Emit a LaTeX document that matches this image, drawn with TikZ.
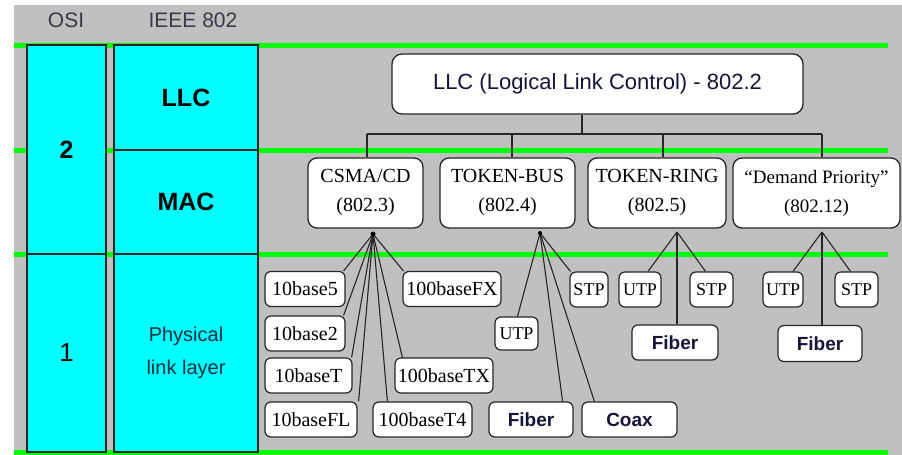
\documentclass[tikz,border=0pt]{standalone}
\usepackage{fontspec}
\setmainfont{Liberation Serif}
\setsansfont{Liberation Sans}
\definecolor{bggray}{HTML}{C0C0C0}
\definecolor{lgreen}{HTML}{00FF00}
\definecolor{lcyan}{HTML}{00FFFF}
\definecolor{navy}{HTML}{15153A}
\definecolor{hdr}{HTML}{3A3A4A}
\definecolor{phys}{HTML}{103040}
\begin{document}
\begin{tikzpicture}[x=1pt,y=-1pt,
  greenline/.style={draw=lgreen, line width=5pt},
  layerbox/.style={draw=black!85, line width=1.4pt, fill=lcyan, inner sep=0pt, text=black},
  bigbold/.style={font=\sffamily\bfseries\fontsize{25}{30}\selectfont},
  hdrtext/.style={font=\sffamily\fontsize{21}{25}\selectfont, text=hdr, inner sep=0pt},
  llcbox/.style={draw=black!85, fill=white, line width=1.3pt, rounded corners=10pt, inner sep=0pt,
     font=\sffamily\fontsize{22}{26}\selectfont, text=navy},
  protobox/.style={draw=black!85, fill=white, line width=1.3pt, rounded corners=9pt, inner sep=0pt,
     align=center, font=\fontsize{20}{29}\selectfont, minimum height=70pt},
  physbox/.style={draw=black!85, fill=white, line width=1.2pt, rounded corners=6pt, inner sep=0pt,
     font=\fontsize{20}{24}\selectfont, minimum height=35pt},
  smallbox/.style={physbox, font=\fontsize{18}{20}\selectfont},
  sansbox/.style={physbox, font=\sffamily\bfseries\fontsize{19}{23}\selectfont, text=navy},
  link/.style={draw=black!85, line width=1.1pt}
]
\useasboundingbox (0,0) rectangle (902,455);
% background
\fill[bggray] (14,5) rectangle (902,455);
% green level lines
\draw[greenline] (14,45) -- (888,45);
\draw[greenline] (14,150) -- (888,150);
\draw[greenline] (14,254) -- (888,254);
\draw[greenline] (14,452) -- (888,452);
% headers
\node[hdrtext] (hosi) at (66,20) {OSI};
\node[hdrtext] (hieee) at (193,20) {IEEE 802};
% layer columns
\node[layerbox, minimum width=79pt, minimum height=209pt, bigbold] (osi2) at (66.5,149.5) {2};
\node[layerbox, minimum width=79pt, minimum height=198pt, font=\sffamily\fontsize{26}{30}\selectfont] (osi1) at (66.5,353) {1};
\node[layerbox, minimum width=144pt, minimum height=105pt, bigbold] (ieeellc) at (186,97.5) {LLC};
\node[layerbox, minimum width=144pt, minimum height=104pt, bigbold] (ieeemac) at (186,202) {MAC};
\node[layerbox, minimum width=144pt, minimum height=198pt, align=center, text=phys,
      font=\sffamily\fontsize{20}{33}\selectfont] (ieeephy) at (186,353) {Physical\\link layer};
% LLC box
\node[llcbox, minimum width=411pt, minimum height=60pt] (llc) at (597.5,84) {LLC (Logical Link Control) - 802.2};
% MAC protocol boxes
\node[protobox, minimum width=115pt] (csma) at (365.5,193) {CSMA/CD\\(802.3)};
\node[protobox, minimum width=135pt] (tbus) at (507.5,193) {TOKEN-BUS\\(802.4)};
\node[protobox, minimum width=138pt] (tring) at (657,193) {TOKEN-RING\\(802.5)};
\node[protobox, minimum width=167pt, font=\fontsize{19}{29}\selectfont] (dprio) at (816.5,193) {“Demand Priority”\\(802.12)};
% tree from LLC
\coordinate (t0) at (582,134);
\coordinate (t1) at (367,134);
\coordinate (t2) at (512,134);
\coordinate (t3) at (663,134);
\coordinate (t4) at (822,134);
\draw[link] (t0 |- llc.south) -- (t0);
\draw[link] (t1) -- (t4);
\draw[link] (t1) -- (t1 |- csma.north);
\draw[link] (t2) -- (t2 |- tbus.north);
\draw[link] (t3) -- (t3 |- tring.north);
\draw[link] (t4) -- (t4 |- dprio.north);
% physical boxes: 802.3
\node[physbox, minimum width=80pt] (p10b5) at (305,289) {10base5};
\node[physbox, minimum width=80pt] (p10b2) at (305,333.5) {10base2};
\node[physbox, minimum width=87pt] (p10bT) at (308.5,375.5) {10baseT};
\node[physbox, minimum width=92pt] (p10bFL) at (311,419.5) {10baseFL};
\node[physbox, minimum width=99pt] (p100T4) at (422.5,419.5) {100baseT4};
\node[physbox, minimum width=98pt] (p100TX) at (444,375.5) {100baseTX};
\node[physbox, minimum width=98pt] (p100FX) at (452,289) {100baseFX};
% 802.4
\node[smallbox, minimum width=43pt, minimum height=33pt] (bUTP) at (516.5,333.5) {UTP};
\node[smallbox, minimum width=38pt] (bSTP) at (589,289.5) {STP};
\node[sansbox, minimum width=84pt] (bFiber) at (531,419.5) {Fiber};
\node[sansbox, minimum width=95pt] (bCoax) at (629.5,419.5) {Coax};
% 802.5
\node[smallbox, minimum width=42pt] (rUTP) at (640,289.5) {UTP};
\node[smallbox, minimum width=43pt] (rSTP) at (711.5,289.5) {STP};
\node[sansbox, minimum width=86pt] (rFiber) at (675,342.5) {Fiber};
% 802.12
\node[smallbox, minimum width=40pt] (dUTP) at (783,289.5) {UTP};
\node[smallbox, minimum width=43pt] (dSTP) at (856.5,289.5) {STP};
\node[sansbox, minimum width=84pt, minimum height=36pt] (dFiber) at (820,343.5) {Fiber};
% fan-out connectors
\coordinate (f1) at (373,234);
\coordinate (f2) at (540,233);
\coordinate (f3) at (677,232);
\coordinate (f4) at (822,232);
\draw[link] (f1) -- ([xshift=-2pt]p10b5.north east);
\draw[link] (f1) -- ([xshift=-2pt]p10b2.north east);
\draw[link] (f1) -- ([xshift=-1pt]p10bT.north east);
\draw[link] (f1) -- ([xshift=1pt]p10bFL.north east);
\draw[link] (f1) -- ([xshift=15pt]p100T4.north west);
\draw[link] (f1) -- ([xshift=8pt]p100TX.north west);
\draw[link] (f1) -- ([xshift=1pt]p100FX.north west);
\draw[link] (f2) -- ([xshift=1pt]bUTP.north);
\draw[link] (f2) -- ([xshift=1pt]bSTP.north west);
\draw[link] (f2) -- ([xshift=-11pt]bFiber.north east);
\draw[link] (f2) -- ([xshift=13pt]bCoax.north west);
\draw[link] (f3) -- ([xshift=8pt]rUTP.north);
\draw[link] (f3) -- ([xshift=-6pt]rSTP.north);
\draw[link] (f3) -- (f3 |- rFiber.north);
\draw[link] (f4) -- ([xshift=10pt]dUTP.north);
\draw[link] (f4) -- ([xshift=-6pt]dSTP.north);
\draw[link] (f4) -- (f4 |- dFiber.north);
\fill[black] (f1) circle (2.5pt);
\fill[black] (f2) circle (2pt);
\end{tikzpicture}
\end{document}
